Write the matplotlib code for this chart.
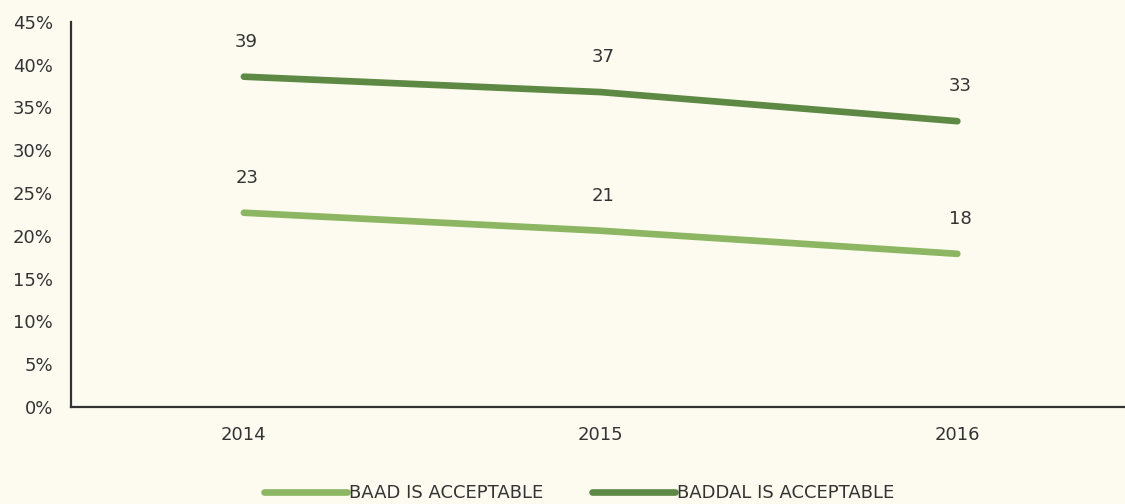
import matplotlib.pyplot as plt

years = ['2014', '2015', '2016']
baad = [22.7, 20.6, 17.9]
baddal = [38.6, 36.8, 33.4]
series_names = ['BAAD IS ACCEPTABLE', 'BADDAL IS ACCEPTABLE']

bg = '#fdfbf0'
light_green = '#8cb662'
dark_green = '#5e8945'

plt.rcParams['font.family'] = ['DejaVu Sans']

fig = plt.figure(figsize=(11.25, 5.04), dpi=100, facecolor=bg)
ax = fig.add_axes([0.063, 0.1925, 0.937, 0.764])
ax.set_facecolor(bg)

x = range(len(years))
for vals, col, name in [(baad, light_green, series_names[0]), (baddal, dark_green, series_names[1])]:
    ax.plot(x, vals, color=col, lw=4.8, solid_capstyle='round', label=name)
    for xi, v in zip(x, vals):
        ax.annotate('{:.0f}'.format(v), (xi, v), xytext=(2, 25), textcoords='offset points',
                    ha='center', va='center', fontsize=13, color='#333333')

ax.set_xlim(-0.485, 2.47)
ax.set_ylim(0, 45)
ax.set_xticks(list(x))
ax.set_xticklabels(years)
ax.set_yticks(range(0, 46, 5))
ax.set_yticklabels(['{}%'.format(v) for v in range(0, 46, 5)])
ax.tick_params(length=0, labelsize=13, colors='#333333')
ax.tick_params(axis='y', pad=13)
ax.tick_params(axis='x', pad=14)

for s in ['top', 'right']:
    ax.spines[s].set_visible(False)
for s in ['left', 'bottom']:
    ax.spines[s].set_color('#333333')
    ax.spines[s].set_linewidth(1.6)

leg = fig.legend(loc='lower center', bbox_to_anchor=(0.515, -0.028), ncol=2, frameon=False,
                 fontsize=13, handlelength=4.6, handletextpad=0.1, columnspacing=2.7,
                 labelcolor='#333333')

fig.savefig('out.png', dpi=100, facecolor=bg)
